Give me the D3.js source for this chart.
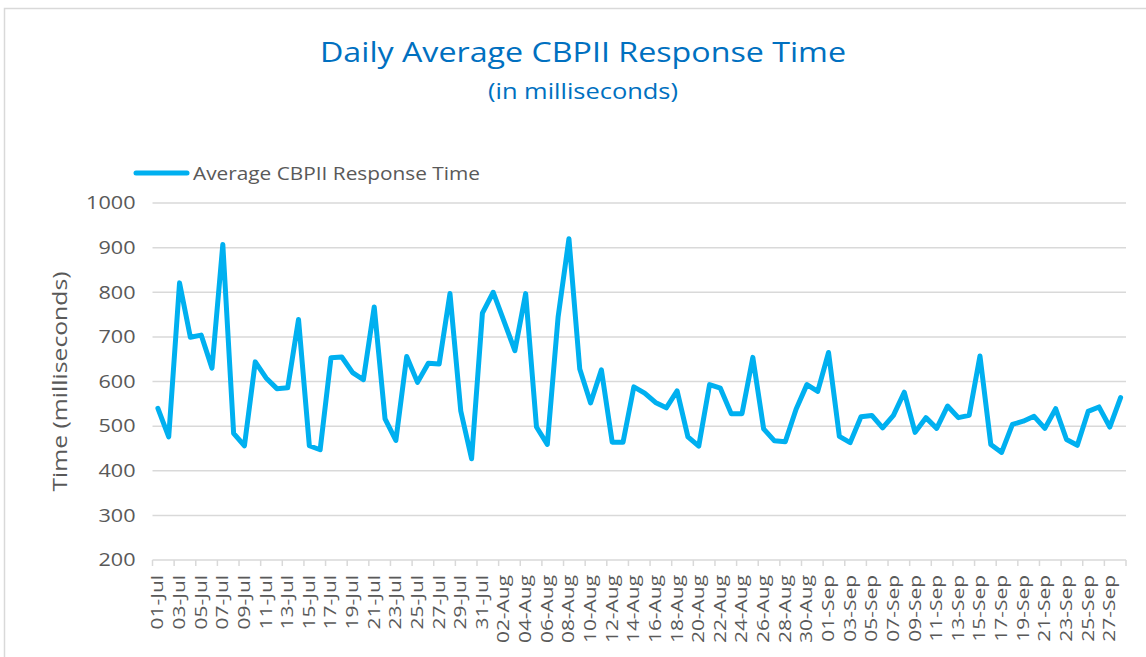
<!DOCTYPE html>
<html><head><meta charset="utf-8">
<script src="https://cdn.jsdelivr.net/npm/d3@7"></script>
<style>
html,body{margin:0;padding:0;background:#fff;}
svg{display:block;}
text{font-family:"Open Sans","Noto Sans",sans-serif;}
</style></head>
<body><svg id="c" width="1146" height="657"></svg>
<script>
const months = ["Jul","Aug","Sep"];
const daysInMonth = [31,31,28];
const julValues = [540,476,821,699,704,630,907,484,456,644,608,584,586,739,456,447,653,655,620,604,767,516,468,656,598,641,639,797,534,427,753];
const augValues = [800,735,669,797,498,459,745,920,628,552,626,464,464,588,574,553,541,579,476,455,593,585,528,528,654,494,467,465,538,593,578];
const sepValues = [665,477,463,521,524,496,524,576,486,519,495,545,519,524,657,459,441,504,511,522,495,539,470,457,533,543,498,564];
const yTicks = [200,300,400,500,600,700,800,900,1000];
const titleText = "Daily Average CBPII Response Time";
const subtitleText = "(in milliseconds)";
const seriesName = "Average CBPII Response Time";
const yAxisTitle = "Time (milliseconds)";

const monthValues = [julValues, augValues, sepValues];
const data = [];
months.forEach((m, mi) => {
  for (let d = 1; d <= daysInMonth[mi]; d++) {
    data.push({label: String(d).padStart(2,"0") + "-" + m, value: monthValues[mi][d-1]});
  }
});

const svg = d3.select("#c");
const pL = 152.5, pR = 1126, pT = 203, pB = 560;
const x = d3.scaleBand().domain(data.map(d => d.label)).range([pL, pR]).paddingInner(0).paddingOuter(0);
const y = d3.scaleLinear().domain([200, 1000]).range([pB, pT]);
const cx = d => x(d.label) + x.bandwidth() / 2;

// outer border
svg.append("rect").attr("x", 4.5).attr("y", 8.5).attr("width", 1160).attr("height", 700)
  .attr("fill", "none").attr("stroke", "#d9d9d9").attr("stroke-width", 1.5);

// title
svg.append("text").attr("x", 583).attr("y", 62).attr("text-anchor", "middle")
  .attr("fill", "#0070C0").attr("font-size", 28)
  .attr("textLength", 526).attr("lengthAdjust", "spacingAndGlyphs").text(titleText);
svg.append("text").attr("x", 583).attr("y", 99).attr("text-anchor", "middle")
  .attr("fill", "#0070C0").attr("font-size", 22)
  .attr("textLength", 190).attr("lengthAdjust", "spacingAndGlyphs").text(subtitleText);

// gridlines
svg.append("g").selectAll("line").data(yTicks.filter(t => t !== 200)).join("line")
  .attr("x1", pL).attr("x2", pR).attr("y1", d => y(d)).attr("y2", d => y(d))
  .attr("stroke", "#d9d9d9").attr("stroke-width", 1.5);

// y axis labels
const yAxis = d3.axisLeft(y).tickValues(yTicks).tickFormat(d3.format("d")).tickSize(0).tickPadding(0);
const gy = svg.append("g").attr("transform", `translate(${pL - 17},0)`).call(yAxis);
gy.select(".domain").remove();
gy.selectAll("text").attr("fill", "#595959").attr("font-size", 18)
  .attr("transform", "scale(1.2,1)")
  .attr("font-family", '"Open Sans","Noto Sans",sans-serif');

// y axis title
svg.append("text").attr("transform", `translate(67,${(pT + pB) / 2}) rotate(-90)`)
  .attr("text-anchor", "middle").attr("fill", "#595959").attr("font-size", 20)
  .attr("textLength", 220).attr("lengthAdjust", "spacingAndGlyphs").text(yAxisTitle);

// x axis
const bw = x.bandwidth();
const tickIdx = d3.range(0, data.length + 1, 2);
const gx = svg.append("g");
gx.append("line").attr("x1", pL).attr("x2", pR).attr("y1", pB).attr("y2", pB)
  .attr("stroke", "#d9d9d9").attr("stroke-width", 1.5);
gx.selectAll("line.tk").data(tickIdx).join("line").attr("class", "tk")
  .attr("x1", i => pL + i * bw).attr("x2", i => pL + i * bw)
  .attr("y1", pB).attr("y2", pB + 6)
  .attr("stroke", "#d9d9d9").attr("stroke-width", 1.5);
const xAxis = d3.axisBottom(x).tickValues(data.filter((d, i) => i % 2 === 0).map(d => d.label)).tickSize(0).tickPadding(0);
const gxl = svg.append("g").attr("transform", `translate(0,${pB})`).call(xAxis);
gxl.select(".domain").remove();
gxl.selectAll("text")
  .attr("transform", "translate(0,15) rotate(-90) scale(1.35,1)")
  .attr("x", 0).attr("y", 0).attr("dy", "0.35em")
  .attr("text-anchor", "end")
  .attr("fill", "#595959").attr("font-size", 15.5).attr("font-family", '"Open Sans","Noto Sans",sans-serif');

// line
const line = d3.line().x(cx).y(d => y(d.value));
svg.append("path").datum(data).attr("d", line)
  .attr("fill", "none").attr("stroke", "#00B0F0").attr("stroke-width", 5)
  .attr("stroke-linejoin", "round").attr("stroke-linecap", "round");

// legend
svg.append("line").attr("x1", 136).attr("x2", 187).attr("y1", 173).attr("y2", 173)
  .attr("stroke", "#00B0F0").attr("stroke-width", 5).attr("stroke-linecap", "round");
svg.append("text").attr("x", 193).attr("y", 173).attr("dy", "0.35em")
  .attr("fill", "#595959").attr("font-size", 19)
  .attr("textLength", 287).attr("lengthAdjust", "spacingAndGlyphs").text(seriesName);
</script></body></html>
